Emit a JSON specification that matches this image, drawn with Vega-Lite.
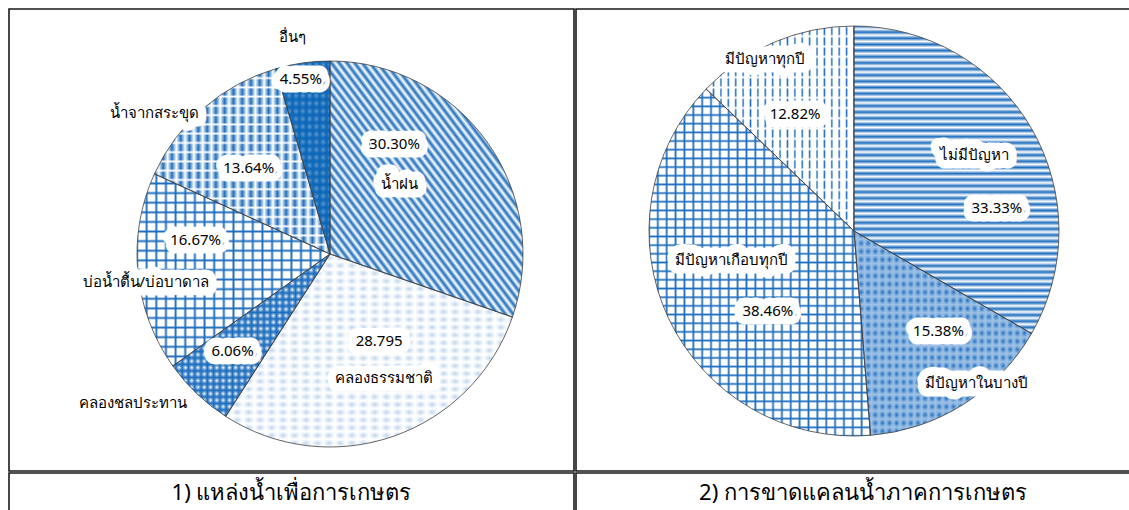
{
"$schema":"https://vega.github.io/schema/vega-lite/v6.json",
"padding":{"left":8,"top":8,"right":0,"bottom":0},
"background":"#ffffff",
"spacing":0,
"config":{"font":"Noto Sans","view":{"stroke":"#1a1a1a","strokeWidth":1.6},
"style":{"lh":{"fontSize":15,"fill":"#ffffff","stroke":"#ffffff","strokeWidth":17,"strokeJoin":"round"},"lt":{"fontSize":15,"fill":"#404040"}}},
"datasets":{
"L":[{"c":"rain","n":"น้ำฝน","p":"30.30%","v":30.30,"o":1},{"c":"nat","n":"คลองธรรมชาติ","p":"28.795","v":28.795,"o":2},{"c":"irr","n":"คลองชลประทาน","p":"6.06%","v":6.06,"o":3},{"c":"bore","n":"บ่อน้ำตื้น/บ่อบาดาล","p":"16.67%","v":16.67,"o":4},{"c":"pond","n":"น้ำจากสระขุด","p":"13.64%","v":13.64,"o":5},{"c":"oth","n":"อื่นๆ","p":"4.55%","v":4.55,"o":6}],
"R":[{"c":"none","n":"ไม่มีปัญหา","p":"33.33%","v":33.33,"o":1},{"c":"some","n":"มีปัญหาในบางปี","p":"15.38%","v":15.38,"o":2},{"c":"most","n":"มีปัญหาเกือบทุกปี","p":"38.46%","v":38.46,"o":3},{"c":"every","n":"มีปัญหาทุกปี","p":"12.82%","v":12.82,"o":4}]
},
"vconcat":[
{"hconcat":[
{"width":565,"height":462,"data":{"name":"L"},"view":{"stroke":"#1a1a1a","strokeWidth":1.6},
"encoding":{"theta":{"field":"v","type":"quantitative","stack":true},"detail":{"field":"c"},"order":{"field":"o","type":"quantitative"}},
"layer":[
{"mark":{"type":"arc","radius":193,"xOffset":38.5,"yOffset":14},"encoding":{"fill":{"condition":[{"test":"datum.c==='irr'","value":"#1e6ebe"},{"test":"datum.c==='oth'","value":"#0b66b8"}],"value":"#ffffff"}}},
{"mark":{"type":"arc","radius":193,"xOffset":38.5,"yOffset":14},"encoding":{"fill":{"condition":[
{"test":"datum.c==='rain'","value":{"gradient":"linear","x1":0,"y1":1,"x2":1,"y2":0,"stops":[{"offset":0,"color":"#1e6ebe"},{"offset":0.01,"color":"#1e6ebe00"},{"offset":0.02,"color":"#1e6ebe"},{"offset":0.03,"color":"#1e6ebe00"},{"offset":0.04,"color":"#1e6ebe"},{"offset":0.05,"color":"#1e6ebe00"},{"offset":0.06,"color":"#1e6ebe"},{"offset":0.07,"color":"#1e6ebe00"},{"offset":0.08,"color":"#1e6ebe"},{"offset":0.09,"color":"#1e6ebe00"},{"offset":0.1,"color":"#1e6ebe"},{"offset":0.11,"color":"#1e6ebe00"},{"offset":0.12,"color":"#1e6ebe"},{"offset":0.13,"color":"#1e6ebe00"},{"offset":0.14,"color":"#1e6ebe"},{"offset":0.15,"color":"#1e6ebe00"},{"offset":0.16,"color":"#1e6ebe"},{"offset":0.17,"color":"#1e6ebe00"},{"offset":0.18,"color":"#1e6ebe"},{"offset":0.19,"color":"#1e6ebe00"},{"offset":0.2,"color":"#1e6ebe"},{"offset":0.21,"color":"#1e6ebe00"},{"offset":0.22,"color":"#1e6ebe"},{"offset":0.23,"color":"#1e6ebe00"},{"offset":0.24,"color":"#1e6ebe"},{"offset":0.25,"color":"#1e6ebe00"},{"offset":0.26,"color":"#1e6ebe"},{"offset":0.27,"color":"#1e6ebe00"},{"offset":0.28,"color":"#1e6ebe"},{"offset":0.29,"color":"#1e6ebe00"},{"offset":0.3,"color":"#1e6ebe"},{"offset":0.31,"color":"#1e6ebe00"},{"offset":0.32,"color":"#1e6ebe"},{"offset":0.33,"color":"#1e6ebe00"},{"offset":0.34,"color":"#1e6ebe"},{"offset":0.35,"color":"#1e6ebe00"},{"offset":0.36,"color":"#1e6ebe"},{"offset":0.37,"color":"#1e6ebe00"},{"offset":0.38,"color":"#1e6ebe"},{"offset":0.39,"color":"#1e6ebe00"},{"offset":0.4,"color":"#1e6ebe"},{"offset":0.41,"color":"#1e6ebe00"},{"offset":0.42,"color":"#1e6ebe"},{"offset":0.43,"color":"#1e6ebe00"},{"offset":0.44,"color":"#1e6ebe"},{"offset":0.45,"color":"#1e6ebe00"},{"offset":0.46,"color":"#1e6ebe"},{"offset":0.47,"color":"#1e6ebe00"},{"offset":0.48,"color":"#1e6ebe"},{"offset":0.49,"color":"#1e6ebe00"},{"offset":0.5,"color":"#1e6ebe"},{"offset":0.51,"color":"#1e6ebe00"},{"offset":0.52,"color":"#1e6ebe"},{"offset":0.53,"color":"#1e6ebe00"},{"offset":0.54,"color":"#1e6ebe"},{"offset":0.55,"color":"#1e6ebe00"},{"offset":0.56,"color":"#1e6ebe"},{"offset":0.57,"color":"#1e6ebe00"},{"offset":0.58,"color":"#1e6ebe"},{"offset":0.59,"color":"#1e6ebe00"},{"offset":0.6,"color":"#1e6ebe"},{"offset":0.61,"color":"#1e6ebe00"},{"offset":0.62,"color":"#1e6ebe"},{"offset":0.63,"color":"#1e6ebe00"},{"offset":0.64,"color":"#1e6ebe"},{"offset":0.65,"color":"#1e6ebe00"},{"offset":0.66,"color":"#1e6ebe"},{"offset":0.67,"color":"#1e6ebe00"},{"offset":0.68,"color":"#1e6ebe"},{"offset":0.69,"color":"#1e6ebe00"},{"offset":0.7,"color":"#1e6ebe"},{"offset":0.71,"color":"#1e6ebe00"},{"offset":0.72,"color":"#1e6ebe"},{"offset":0.73,"color":"#1e6ebe00"},{"offset":0.74,"color":"#1e6ebe"},{"offset":0.75,"color":"#1e6ebe00"},{"offset":0.76,"color":"#1e6ebe"},{"offset":0.77,"color":"#1e6ebe00"},{"offset":0.78,"color":"#1e6ebe"},{"offset":0.79,"color":"#1e6ebe00"},{"offset":0.8,"color":"#1e6ebe"},{"offset":0.81,"color":"#1e6ebe00"},{"offset":0.82,"color":"#1e6ebe"},{"offset":0.83,"color":"#1e6ebe00"},{"offset":0.84,"color":"#1e6ebe"},{"offset":0.85,"color":"#1e6ebe00"},{"offset":0.86,"color":"#1e6ebe"},{"offset":0.87,"color":"#1e6ebe00"},{"offset":0.88,"color":"#1e6ebe"},{"offset":0.89,"color":"#1e6ebe00"},{"offset":0.9,"color":"#1e6ebe"},{"offset":0.91,"color":"#1e6ebe00"},{"offset":0.92,"color":"#1e6ebe"},{"offset":0.93,"color":"#1e6ebe00"},{"offset":0.94,"color":"#1e6ebe"},{"offset":0.95,"color":"#1e6ebe00"},{"offset":0.96,"color":"#1e6ebe"},{"offset":0.97,"color":"#1e6ebe00"},{"offset":0.98,"color":"#1e6ebe"},{"offset":0.99,"color":"#1e6ebe00"},{"offset":1,"color":"#1e6ebe"}]}},
{"test":"datum.c==='nat'","value":{"gradient":"linear","x1":0,"y1":0,"x2":1,"y2":0,"stops":[{"offset":0,"color":"#1e6ebe4d"},{"offset":0.02,"color":"#1e6ebe00"},{"offset":0.04,"color":"#1e6ebe4d"},{"offset":0.06,"color":"#1e6ebe00"},{"offset":0.08,"color":"#1e6ebe4d"},{"offset":0.1,"color":"#1e6ebe00"},{"offset":0.12,"color":"#1e6ebe4d"},{"offset":0.14,"color":"#1e6ebe00"},{"offset":0.16,"color":"#1e6ebe4d"},{"offset":0.18,"color":"#1e6ebe00"},{"offset":0.2,"color":"#1e6ebe4d"},{"offset":0.22,"color":"#1e6ebe00"},{"offset":0.24,"color":"#1e6ebe4d"},{"offset":0.26,"color":"#1e6ebe00"},{"offset":0.28,"color":"#1e6ebe4d"},{"offset":0.3,"color":"#1e6ebe00"},{"offset":0.32,"color":"#1e6ebe4d"},{"offset":0.34,"color":"#1e6ebe00"},{"offset":0.36,"color":"#1e6ebe4d"},{"offset":0.38,"color":"#1e6ebe00"},{"offset":0.4,"color":"#1e6ebe4d"},{"offset":0.42,"color":"#1e6ebe00"},{"offset":0.44,"color":"#1e6ebe4d"},{"offset":0.46,"color":"#1e6ebe00"},{"offset":0.48,"color":"#1e6ebe4d"},{"offset":0.5,"color":"#1e6ebe00"},{"offset":0.52,"color":"#1e6ebe4d"},{"offset":0.54,"color":"#1e6ebe00"},{"offset":0.56,"color":"#1e6ebe4d"},{"offset":0.58,"color":"#1e6ebe00"},{"offset":0.6,"color":"#1e6ebe4d"},{"offset":0.62,"color":"#1e6ebe00"},{"offset":0.64,"color":"#1e6ebe4d"},{"offset":0.66,"color":"#1e6ebe00"},{"offset":0.68,"color":"#1e6ebe4d"},{"offset":0.7,"color":"#1e6ebe00"},{"offset":0.72,"color":"#1e6ebe4d"},{"offset":0.74,"color":"#1e6ebe00"},{"offset":0.76,"color":"#1e6ebe4d"},{"offset":0.78,"color":"#1e6ebe00"},{"offset":0.8,"color":"#1e6ebe4d"},{"offset":0.82,"color":"#1e6ebe00"},{"offset":0.84,"color":"#1e6ebe4d"},{"offset":0.86,"color":"#1e6ebe00"},{"offset":0.88,"color":"#1e6ebe4d"},{"offset":0.9,"color":"#1e6ebe00"},{"offset":0.92,"color":"#1e6ebe4d"},{"offset":0.94,"color":"#1e6ebe00"},{"offset":0.96,"color":"#1e6ebe4d"},{"offset":0.98,"color":"#1e6ebe00"},{"offset":1,"color":"#1e6ebe4d"}]}},
{"test":"datum.c==='irr'","value":{"gradient":"linear","x1":0,"y1":0,"x2":1,"y2":0,"stops":[{"offset":0,"color":"#ffffff"},{"offset":0.02,"color":"#ffffff00"},{"offset":0.04,"color":"#ffffff"},{"offset":0.06,"color":"#ffffff00"},{"offset":0.08,"color":"#ffffff"},{"offset":0.1,"color":"#ffffff00"},{"offset":0.12,"color":"#ffffff"},{"offset":0.14,"color":"#ffffff00"},{"offset":0.16,"color":"#ffffff"},{"offset":0.18,"color":"#ffffff00"},{"offset":0.2,"color":"#ffffff"},{"offset":0.22,"color":"#ffffff00"},{"offset":0.24,"color":"#ffffff"},{"offset":0.26,"color":"#ffffff00"},{"offset":0.28,"color":"#ffffff"},{"offset":0.3,"color":"#ffffff00"},{"offset":0.32,"color":"#ffffff"},{"offset":0.34,"color":"#ffffff00"},{"offset":0.36,"color":"#ffffff"},{"offset":0.38,"color":"#ffffff00"},{"offset":0.4,"color":"#ffffff"},{"offset":0.42,"color":"#ffffff00"},{"offset":0.44,"color":"#ffffff"},{"offset":0.46,"color":"#ffffff00"},{"offset":0.48,"color":"#ffffff"},{"offset":0.5,"color":"#ffffff00"},{"offset":0.52,"color":"#ffffff"},{"offset":0.54,"color":"#ffffff00"},{"offset":0.56,"color":"#ffffff"},{"offset":0.58,"color":"#ffffff00"},{"offset":0.6,"color":"#ffffff"},{"offset":0.62,"color":"#ffffff00"},{"offset":0.64,"color":"#ffffff"},{"offset":0.66,"color":"#ffffff00"},{"offset":0.68,"color":"#ffffff"},{"offset":0.7,"color":"#ffffff00"},{"offset":0.72,"color":"#ffffff"},{"offset":0.74,"color":"#ffffff00"},{"offset":0.76,"color":"#ffffff"},{"offset":0.78,"color":"#ffffff00"},{"offset":0.8,"color":"#ffffff"},{"offset":0.82,"color":"#ffffff00"},{"offset":0.84,"color":"#ffffff"},{"offset":0.86,"color":"#ffffff00"},{"offset":0.88,"color":"#ffffff"},{"offset":0.9,"color":"#ffffff00"},{"offset":0.92,"color":"#ffffff"},{"offset":0.94,"color":"#ffffff00"},{"offset":0.96,"color":"#ffffff"},{"offset":0.98,"color":"#ffffff00"},{"offset":1,"color":"#ffffff"}]}},
{"test":"datum.c==='bore'","value":{"gradient":"linear","x1":0,"y1":0,"x2":0,"y2":1,"stops":[{"offset":0,"color":"#1e6ebe"},{"offset":0.01,"color":"#1e6ebe00"},{"offset":0.04,"color":"#1e6ebe00"},{"offset":0.05,"color":"#1e6ebe"},{"offset":0.06,"color":"#1e6ebe00"},{"offset":0.09,"color":"#1e6ebe00"},{"offset":0.1,"color":"#1e6ebe"},{"offset":0.11,"color":"#1e6ebe00"},{"offset":0.14,"color":"#1e6ebe00"},{"offset":0.15,"color":"#1e6ebe"},{"offset":0.16,"color":"#1e6ebe00"},{"offset":0.19,"color":"#1e6ebe00"},{"offset":0.2,"color":"#1e6ebe"},{"offset":0.21,"color":"#1e6ebe00"},{"offset":0.24,"color":"#1e6ebe00"},{"offset":0.25,"color":"#1e6ebe"},{"offset":0.26,"color":"#1e6ebe00"},{"offset":0.29,"color":"#1e6ebe00"},{"offset":0.3,"color":"#1e6ebe"},{"offset":0.31,"color":"#1e6ebe00"},{"offset":0.34,"color":"#1e6ebe00"},{"offset":0.35,"color":"#1e6ebe"},{"offset":0.36,"color":"#1e6ebe00"},{"offset":0.39,"color":"#1e6ebe00"},{"offset":0.4,"color":"#1e6ebe"},{"offset":0.41,"color":"#1e6ebe00"},{"offset":0.44,"color":"#1e6ebe00"},{"offset":0.45,"color":"#1e6ebe"},{"offset":0.46,"color":"#1e6ebe00"},{"offset":0.49,"color":"#1e6ebe00"},{"offset":0.5,"color":"#1e6ebe"},{"offset":0.51,"color":"#1e6ebe00"},{"offset":0.54,"color":"#1e6ebe00"},{"offset":0.55,"color":"#1e6ebe"},{"offset":0.56,"color":"#1e6ebe00"},{"offset":0.59,"color":"#1e6ebe00"},{"offset":0.6,"color":"#1e6ebe"},{"offset":0.61,"color":"#1e6ebe00"},{"offset":0.64,"color":"#1e6ebe00"},{"offset":0.65,"color":"#1e6ebe"},{"offset":0.66,"color":"#1e6ebe00"},{"offset":0.69,"color":"#1e6ebe00"},{"offset":0.7,"color":"#1e6ebe"},{"offset":0.71,"color":"#1e6ebe00"},{"offset":0.74,"color":"#1e6ebe00"},{"offset":0.75,"color":"#1e6ebe"},{"offset":0.76,"color":"#1e6ebe00"},{"offset":0.79,"color":"#1e6ebe00"},{"offset":0.8,"color":"#1e6ebe"},{"offset":0.81,"color":"#1e6ebe00"},{"offset":0.84,"color":"#1e6ebe00"},{"offset":0.85,"color":"#1e6ebe"},{"offset":0.86,"color":"#1e6ebe00"},{"offset":0.89,"color":"#1e6ebe00"},{"offset":0.9,"color":"#1e6ebe"},{"offset":0.91,"color":"#1e6ebe00"},{"offset":0.94,"color":"#1e6ebe00"},{"offset":0.95,"color":"#1e6ebe"},{"offset":0.96,"color":"#1e6ebe00"},{"offset":0.99,"color":"#1e6ebe00"},{"offset":1,"color":"#1e6ebe"}]}},
{"test":"datum.c==='pond'","value":{"gradient":"linear","x1":0,"y1":0,"x2":1,"y2":0,"stops":[{"offset":0,"color":"#1e6ebe"},{"offset":0.025,"color":"#1e6ebe00"},{"offset":0.05,"color":"#1e6ebe"},{"offset":0.075,"color":"#1e6ebe00"},{"offset":0.1,"color":"#1e6ebe"},{"offset":0.125,"color":"#1e6ebe00"},{"offset":0.15,"color":"#1e6ebe"},{"offset":0.175,"color":"#1e6ebe00"},{"offset":0.2,"color":"#1e6ebe"},{"offset":0.225,"color":"#1e6ebe00"},{"offset":0.25,"color":"#1e6ebe"},{"offset":0.275,"color":"#1e6ebe00"},{"offset":0.3,"color":"#1e6ebe"},{"offset":0.325,"color":"#1e6ebe00"},{"offset":0.35,"color":"#1e6ebe"},{"offset":0.375,"color":"#1e6ebe00"},{"offset":0.4,"color":"#1e6ebe"},{"offset":0.425,"color":"#1e6ebe00"},{"offset":0.45,"color":"#1e6ebe"},{"offset":0.475,"color":"#1e6ebe00"},{"offset":0.5,"color":"#1e6ebe"},{"offset":0.525,"color":"#1e6ebe00"},{"offset":0.55,"color":"#1e6ebe"},{"offset":0.575,"color":"#1e6ebe00"},{"offset":0.6,"color":"#1e6ebe"},{"offset":0.625,"color":"#1e6ebe00"},{"offset":0.65,"color":"#1e6ebe"},{"offset":0.675,"color":"#1e6ebe00"},{"offset":0.7,"color":"#1e6ebe"},{"offset":0.725,"color":"#1e6ebe00"},{"offset":0.75,"color":"#1e6ebe"},{"offset":0.775,"color":"#1e6ebe00"},{"offset":0.8,"color":"#1e6ebe"},{"offset":0.825,"color":"#1e6ebe00"},{"offset":0.85,"color":"#1e6ebe"},{"offset":0.875,"color":"#1e6ebe00"},{"offset":0.9,"color":"#1e6ebe"},{"offset":0.925,"color":"#1e6ebe00"},{"offset":0.95,"color":"#1e6ebe"},{"offset":0.975,"color":"#1e6ebe00"},{"offset":1,"color":"#1e6ebe"}]}},
{"test":"datum.c==='oth'","value":{"gradient":"linear","x1":0,"y1":0,"x2":1,"y2":0,"stops":[{"offset":0,"color":"#ffffff59"},{"offset":0.0625,"color":"#ffffff00"},{"offset":0.125,"color":"#ffffff59"},{"offset":0.1875,"color":"#ffffff00"},{"offset":0.25,"color":"#ffffff59"},{"offset":0.3125,"color":"#ffffff00"},{"offset":0.375,"color":"#ffffff59"},{"offset":0.4375,"color":"#ffffff00"},{"offset":0.5,"color":"#ffffff59"},{"offset":0.5625,"color":"#ffffff00"},{"offset":0.625,"color":"#ffffff59"},{"offset":0.6875,"color":"#ffffff00"},{"offset":0.75,"color":"#ffffff59"},{"offset":0.8125,"color":"#ffffff00"},{"offset":0.875,"color":"#ffffff59"},{"offset":0.9375,"color":"#ffffff00"},{"offset":1,"color":"#ffffff59"}]}}
],"value":null}}},
{"mark":{"type":"arc","radius":193,"xOffset":38.5,"yOffset":14},"encoding":{"fill":{"condition":[
{"test":"datum.c==='nat'","value":{"gradient":"linear","x1":0,"y1":0,"x2":0,"y2":1,"stops":[{"offset":0,"color":"#ffffff"},{"offset":0.02,"color":"#ffffff00"},{"offset":0.04,"color":"#ffffff"},{"offset":0.06,"color":"#ffffff00"},{"offset":0.08,"color":"#ffffff"},{"offset":0.1,"color":"#ffffff00"},{"offset":0.12,"color":"#ffffff"},{"offset":0.14,"color":"#ffffff00"},{"offset":0.16,"color":"#ffffff"},{"offset":0.18,"color":"#ffffff00"},{"offset":0.2,"color":"#ffffff"},{"offset":0.22,"color":"#ffffff00"},{"offset":0.24,"color":"#ffffff"},{"offset":0.26,"color":"#ffffff00"},{"offset":0.28,"color":"#ffffff"},{"offset":0.3,"color":"#ffffff00"},{"offset":0.32,"color":"#ffffff"},{"offset":0.34,"color":"#ffffff00"},{"offset":0.36,"color":"#ffffff"},{"offset":0.38,"color":"#ffffff00"},{"offset":0.4,"color":"#ffffff"},{"offset":0.42,"color":"#ffffff00"},{"offset":0.44,"color":"#ffffff"},{"offset":0.46,"color":"#ffffff00"},{"offset":0.48,"color":"#ffffff"},{"offset":0.5,"color":"#ffffff00"},{"offset":0.52,"color":"#ffffff"},{"offset":0.54,"color":"#ffffff00"},{"offset":0.56,"color":"#ffffff"},{"offset":0.58,"color":"#ffffff00"},{"offset":0.6,"color":"#ffffff"},{"offset":0.62,"color":"#ffffff00"},{"offset":0.64,"color":"#ffffff"},{"offset":0.66,"color":"#ffffff00"},{"offset":0.68,"color":"#ffffff"},{"offset":0.7,"color":"#ffffff00"},{"offset":0.72,"color":"#ffffff"},{"offset":0.74,"color":"#ffffff00"},{"offset":0.76,"color":"#ffffff"},{"offset":0.78,"color":"#ffffff00"},{"offset":0.8,"color":"#ffffff"},{"offset":0.82,"color":"#ffffff00"},{"offset":0.84,"color":"#ffffff"},{"offset":0.86,"color":"#ffffff00"},{"offset":0.88,"color":"#ffffff"},{"offset":0.9,"color":"#ffffff00"},{"offset":0.92,"color":"#ffffff"},{"offset":0.94,"color":"#ffffff00"},{"offset":0.96,"color":"#ffffff"},{"offset":0.98,"color":"#ffffff00"},{"offset":1,"color":"#ffffff"}]}},
{"test":"datum.c==='irr'","value":{"gradient":"linear","x1":0,"y1":0,"x2":0,"y2":1,"stops":[{"offset":0,"color":"#1e6ebe"},{"offset":0.02,"color":"#1e6ebe00"},{"offset":0.04,"color":"#1e6ebe"},{"offset":0.06,"color":"#1e6ebe00"},{"offset":0.08,"color":"#1e6ebe"},{"offset":0.1,"color":"#1e6ebe00"},{"offset":0.12,"color":"#1e6ebe"},{"offset":0.14,"color":"#1e6ebe00"},{"offset":0.16,"color":"#1e6ebe"},{"offset":0.18,"color":"#1e6ebe00"},{"offset":0.2,"color":"#1e6ebe"},{"offset":0.22,"color":"#1e6ebe00"},{"offset":0.24,"color":"#1e6ebe"},{"offset":0.26,"color":"#1e6ebe00"},{"offset":0.28,"color":"#1e6ebe"},{"offset":0.3,"color":"#1e6ebe00"},{"offset":0.32,"color":"#1e6ebe"},{"offset":0.34,"color":"#1e6ebe00"},{"offset":0.36,"color":"#1e6ebe"},{"offset":0.38,"color":"#1e6ebe00"},{"offset":0.4,"color":"#1e6ebe"},{"offset":0.42,"color":"#1e6ebe00"},{"offset":0.44,"color":"#1e6ebe"},{"offset":0.46,"color":"#1e6ebe00"},{"offset":0.48,"color":"#1e6ebe"},{"offset":0.5,"color":"#1e6ebe00"},{"offset":0.52,"color":"#1e6ebe"},{"offset":0.54,"color":"#1e6ebe00"},{"offset":0.56,"color":"#1e6ebe"},{"offset":0.58,"color":"#1e6ebe00"},{"offset":0.6,"color":"#1e6ebe"},{"offset":0.62,"color":"#1e6ebe00"},{"offset":0.64,"color":"#1e6ebe"},{"offset":0.66,"color":"#1e6ebe00"},{"offset":0.68,"color":"#1e6ebe"},{"offset":0.7,"color":"#1e6ebe00"},{"offset":0.72,"color":"#1e6ebe"},{"offset":0.74,"color":"#1e6ebe00"},{"offset":0.76,"color":"#1e6ebe"},{"offset":0.78,"color":"#1e6ebe00"},{"offset":0.8,"color":"#1e6ebe"},{"offset":0.82,"color":"#1e6ebe00"},{"offset":0.84,"color":"#1e6ebe"},{"offset":0.86,"color":"#1e6ebe00"},{"offset":0.88,"color":"#1e6ebe"},{"offset":0.9,"color":"#1e6ebe00"},{"offset":0.92,"color":"#1e6ebe"},{"offset":0.94,"color":"#1e6ebe00"},{"offset":0.96,"color":"#1e6ebe"},{"offset":0.98,"color":"#1e6ebe00"},{"offset":1,"color":"#1e6ebe"}]}},
{"test":"datum.c==='bore'","value":{"gradient":"linear","x1":0,"y1":0,"x2":1,"y2":0,"stops":[{"offset":0,"color":"#1e6ebe"},{"offset":0.01,"color":"#1e6ebe00"},{"offset":0.04,"color":"#1e6ebe00"},{"offset":0.05,"color":"#1e6ebe"},{"offset":0.06,"color":"#1e6ebe00"},{"offset":0.09,"color":"#1e6ebe00"},{"offset":0.1,"color":"#1e6ebe"},{"offset":0.11,"color":"#1e6ebe00"},{"offset":0.14,"color":"#1e6ebe00"},{"offset":0.15,"color":"#1e6ebe"},{"offset":0.16,"color":"#1e6ebe00"},{"offset":0.19,"color":"#1e6ebe00"},{"offset":0.2,"color":"#1e6ebe"},{"offset":0.21,"color":"#1e6ebe00"},{"offset":0.24,"color":"#1e6ebe00"},{"offset":0.25,"color":"#1e6ebe"},{"offset":0.26,"color":"#1e6ebe00"},{"offset":0.29,"color":"#1e6ebe00"},{"offset":0.3,"color":"#1e6ebe"},{"offset":0.31,"color":"#1e6ebe00"},{"offset":0.34,"color":"#1e6ebe00"},{"offset":0.35,"color":"#1e6ebe"},{"offset":0.36,"color":"#1e6ebe00"},{"offset":0.39,"color":"#1e6ebe00"},{"offset":0.4,"color":"#1e6ebe"},{"offset":0.41,"color":"#1e6ebe00"},{"offset":0.44,"color":"#1e6ebe00"},{"offset":0.45,"color":"#1e6ebe"},{"offset":0.46,"color":"#1e6ebe00"},{"offset":0.49,"color":"#1e6ebe00"},{"offset":0.5,"color":"#1e6ebe"},{"offset":0.51,"color":"#1e6ebe00"},{"offset":0.54,"color":"#1e6ebe00"},{"offset":0.55,"color":"#1e6ebe"},{"offset":0.56,"color":"#1e6ebe00"},{"offset":0.59,"color":"#1e6ebe00"},{"offset":0.6,"color":"#1e6ebe"},{"offset":0.61,"color":"#1e6ebe00"},{"offset":0.64,"color":"#1e6ebe00"},{"offset":0.65,"color":"#1e6ebe"},{"offset":0.66,"color":"#1e6ebe00"},{"offset":0.69,"color":"#1e6ebe00"},{"offset":0.7,"color":"#1e6ebe"},{"offset":0.71,"color":"#1e6ebe00"},{"offset":0.74,"color":"#1e6ebe00"},{"offset":0.75,"color":"#1e6ebe"},{"offset":0.76,"color":"#1e6ebe00"},{"offset":0.79,"color":"#1e6ebe00"},{"offset":0.8,"color":"#1e6ebe"},{"offset":0.81,"color":"#1e6ebe00"},{"offset":0.84,"color":"#1e6ebe00"},{"offset":0.85,"color":"#1e6ebe"},{"offset":0.86,"color":"#1e6ebe00"},{"offset":0.89,"color":"#1e6ebe00"},{"offset":0.9,"color":"#1e6ebe"},{"offset":0.91,"color":"#1e6ebe00"},{"offset":0.94,"color":"#1e6ebe00"},{"offset":0.95,"color":"#1e6ebe"},{"offset":0.96,"color":"#1e6ebe00"},{"offset":0.99,"color":"#1e6ebe00"},{"offset":1,"color":"#1e6ebe"}]}},
{"test":"datum.c==='pond'","value":{"gradient":"linear","x1":0,"y1":0,"x2":0,"y2":1,"stops":[{"offset":0,"color":"#ffffff"},{"offset":0.01,"color":"#ffffff00"},{"offset":0.04,"color":"#ffffff00"},{"offset":0.05,"color":"#ffffff"},{"offset":0.06,"color":"#ffffff00"},{"offset":0.09,"color":"#ffffff00"},{"offset":0.1,"color":"#ffffff"},{"offset":0.11,"color":"#ffffff00"},{"offset":0.14,"color":"#ffffff00"},{"offset":0.15,"color":"#ffffff"},{"offset":0.16,"color":"#ffffff00"},{"offset":0.19,"color":"#ffffff00"},{"offset":0.2,"color":"#ffffff"},{"offset":0.21,"color":"#ffffff00"},{"offset":0.24,"color":"#ffffff00"},{"offset":0.25,"color":"#ffffff"},{"offset":0.26,"color":"#ffffff00"},{"offset":0.29,"color":"#ffffff00"},{"offset":0.3,"color":"#ffffff"},{"offset":0.31,"color":"#ffffff00"},{"offset":0.34,"color":"#ffffff00"},{"offset":0.35,"color":"#ffffff"},{"offset":0.36,"color":"#ffffff00"},{"offset":0.39,"color":"#ffffff00"},{"offset":0.4,"color":"#ffffff"},{"offset":0.41,"color":"#ffffff00"},{"offset":0.44,"color":"#ffffff00"},{"offset":0.45,"color":"#ffffff"},{"offset":0.46,"color":"#ffffff00"},{"offset":0.49,"color":"#ffffff00"},{"offset":0.5,"color":"#ffffff"},{"offset":0.51,"color":"#ffffff00"},{"offset":0.54,"color":"#ffffff00"},{"offset":0.55,"color":"#ffffff"},{"offset":0.56,"color":"#ffffff00"},{"offset":0.59,"color":"#ffffff00"},{"offset":0.6,"color":"#ffffff"},{"offset":0.61,"color":"#ffffff00"},{"offset":0.64,"color":"#ffffff00"},{"offset":0.65,"color":"#ffffff"},{"offset":0.66,"color":"#ffffff00"},{"offset":0.69,"color":"#ffffff00"},{"offset":0.7,"color":"#ffffff"},{"offset":0.71,"color":"#ffffff00"},{"offset":0.74,"color":"#ffffff00"},{"offset":0.75,"color":"#ffffff"},{"offset":0.76,"color":"#ffffff00"},{"offset":0.79,"color":"#ffffff00"},{"offset":0.8,"color":"#ffffff"},{"offset":0.81,"color":"#ffffff00"},{"offset":0.84,"color":"#ffffff00"},{"offset":0.85,"color":"#ffffff"},{"offset":0.86,"color":"#ffffff00"},{"offset":0.89,"color":"#ffffff00"},{"offset":0.9,"color":"#ffffff"},{"offset":0.91,"color":"#ffffff00"},{"offset":0.94,"color":"#ffffff00"},{"offset":0.95,"color":"#ffffff"},{"offset":0.96,"color":"#ffffff00"},{"offset":0.99,"color":"#ffffff00"},{"offset":1,"color":"#ffffff"}]}},
{"test":"datum.c==='oth'","value":{"gradient":"linear","x1":0,"y1":0,"x2":0,"y2":1,"stops":[{"offset":0,"color":"#0b66b8"},{"offset":0.02,"color":"#0b66b800"},{"offset":0.04,"color":"#0b66b8"},{"offset":0.06,"color":"#0b66b800"},{"offset":0.08,"color":"#0b66b8"},{"offset":0.1,"color":"#0b66b800"},{"offset":0.12,"color":"#0b66b8"},{"offset":0.14,"color":"#0b66b800"},{"offset":0.16,"color":"#0b66b8"},{"offset":0.18,"color":"#0b66b800"},{"offset":0.2,"color":"#0b66b8"},{"offset":0.22,"color":"#0b66b800"},{"offset":0.24,"color":"#0b66b8"},{"offset":0.26,"color":"#0b66b800"},{"offset":0.28,"color":"#0b66b8"},{"offset":0.3,"color":"#0b66b800"},{"offset":0.32,"color":"#0b66b8"},{"offset":0.34,"color":"#0b66b800"},{"offset":0.36,"color":"#0b66b8"},{"offset":0.38,"color":"#0b66b800"},{"offset":0.4,"color":"#0b66b8"},{"offset":0.42,"color":"#0b66b800"},{"offset":0.44,"color":"#0b66b8"},{"offset":0.46,"color":"#0b66b800"},{"offset":0.48,"color":"#0b66b8"},{"offset":0.5,"color":"#0b66b800"},{"offset":0.52,"color":"#0b66b8"},{"offset":0.54,"color":"#0b66b800"},{"offset":0.56,"color":"#0b66b8"},{"offset":0.58,"color":"#0b66b800"},{"offset":0.6,"color":"#0b66b8"},{"offset":0.62,"color":"#0b66b800"},{"offset":0.64,"color":"#0b66b8"},{"offset":0.66,"color":"#0b66b800"},{"offset":0.68,"color":"#0b66b8"},{"offset":0.7,"color":"#0b66b800"},{"offset":0.72,"color":"#0b66b8"},{"offset":0.74,"color":"#0b66b800"},{"offset":0.76,"color":"#0b66b8"},{"offset":0.78,"color":"#0b66b800"},{"offset":0.8,"color":"#0b66b8"},{"offset":0.82,"color":"#0b66b800"},{"offset":0.84,"color":"#0b66b8"},{"offset":0.86,"color":"#0b66b800"},{"offset":0.88,"color":"#0b66b8"},{"offset":0.9,"color":"#0b66b800"},{"offset":0.92,"color":"#0b66b8"},{"offset":0.94,"color":"#0b66b800"},{"offset":0.96,"color":"#0b66b8"},{"offset":0.98,"color":"#0b66b800"},{"offset":1,"color":"#0b66b8"}]}}
],"value":null}}},
{"mark":{"type":"arc","radius":193,"xOffset":38.5,"yOffset":14,"filled":false,"stroke":"#404040","strokeWidth":0.8}},
{"mark":{"type":"text","style":"lh","radius":116,"xOffset":38.5,"yOffset":14,"dx":-30,"dy":-43},"encoding":{"text":{"condition":{"test":"datum.c==='rain'","field":"p"},"value":""}}},
{"mark":{"type":"text","style":"lh","radius":97,"xOffset":38.5,"yOffset":14,"dx":-10,"dy":-14},"encoding":{"text":{"condition":{"test":"datum.c==='rain'","field":"n"},"value":""}}},
{"mark":{"type":"text","style":"lh","radius":98,"xOffset":38.5,"yOffset":14,"dx":17,"dy":-6},"encoding":{"text":{"condition":{"test":"datum.c==='nat'","field":"p"},"value":""}}},
{"mark":{"type":"text","style":"lh","radius":135,"xOffset":38.5,"yOffset":14,"dx":10,"dy":-4},"encoding":{"text":{"condition":{"test":"datum.c==='nat'","field":"n"},"value":""}}},
{"mark":{"type":"text","style":"lh","radius":137,"xOffset":38.5,"yOffset":14,"dx":-3,"dy":-2},"encoding":{"text":{"condition":{"test":"datum.c==='irr'","field":"p"},"value":""}}},
{"mark":{"type":"text","style":"lh","radius":150,"xOffset":38.5,"yOffset":14,"dx":-94,"dy":40},"encoding":{"text":{"condition":{"test":"datum.c==='irr'","field":"n"},"value":""}}},
{"mark":{"type":"text","style":"lh","radius":132,"xOffset":38.5,"yOffset":14,"dx":-3,"dy":-27},"encoding":{"text":{"condition":{"test":"datum.c==='bore'","field":"p"},"value":""}}},
{"mark":{"type":"text","style":"lh","radius":186,"xOffset":38.5,"yOffset":14,"dx":1,"dy":10},"encoding":{"text":{"condition":{"test":"datum.c==='bore'","field":"n"},"value":""}}},
{"mark":{"type":"text","style":"lh","radius":118,"xOffset":38.5,"yOffset":14,"dx":-4,"dy":3},"encoding":{"text":{"condition":{"test":"datum.c==='pond'","field":"p"},"value":""}}},
{"mark":{"type":"text","style":"lh","radius":120,"xOffset":38.5,"yOffset":14,"dx":-97,"dy":-50},"encoding":{"text":{"condition":{"test":"datum.c==='pond'","field":"n"},"value":""}}},
{"mark":{"type":"text","style":"lh","radius":177,"xOffset":38.5,"yOffset":14,"dx":-4,"dy":0},"encoding":{"text":{"condition":{"test":"datum.c==='oth'","field":"p"},"value":""}}},
{"mark":{"type":"text","style":"lh","radius":150,"xOffset":38.5,"yOffset":14,"dx":-16,"dy":-69},"encoding":{"text":{"condition":{"test":"datum.c==='oth'","field":"n"},"value":""}}},
{"mark":{"type":"text","style":"lt","radius":116,"xOffset":38.5,"yOffset":14,"dx":-30,"dy":-43},"encoding":{"text":{"condition":{"test":"datum.c==='rain'","field":"p"},"value":""}}},
{"mark":{"type":"text","style":"lt","radius":97,"xOffset":38.5,"yOffset":14,"dx":-10,"dy":-14},"encoding":{"text":{"condition":{"test":"datum.c==='rain'","field":"n"},"value":""}}},
{"mark":{"type":"text","style":"lt","radius":98,"xOffset":38.5,"yOffset":14,"dx":17,"dy":-6},"encoding":{"text":{"condition":{"test":"datum.c==='nat'","field":"p"},"value":""}}},
{"mark":{"type":"text","style":"lt","radius":135,"xOffset":38.5,"yOffset":14,"dx":10,"dy":-4},"encoding":{"text":{"condition":{"test":"datum.c==='nat'","field":"n"},"value":""}}},
{"mark":{"type":"text","style":"lt","radius":137,"xOffset":38.5,"yOffset":14,"dx":-3,"dy":-2},"encoding":{"text":{"condition":{"test":"datum.c==='irr'","field":"p"},"value":""}}},
{"mark":{"type":"text","style":"lt","radius":150,"xOffset":38.5,"yOffset":14,"dx":-94,"dy":40},"encoding":{"text":{"condition":{"test":"datum.c==='irr'","field":"n"},"value":""}}},
{"mark":{"type":"text","style":"lt","radius":132,"xOffset":38.5,"yOffset":14,"dx":-3,"dy":-27},"encoding":{"text":{"condition":{"test":"datum.c==='bore'","field":"p"},"value":""}}},
{"mark":{"type":"text","style":"lt","radius":186,"xOffset":38.5,"yOffset":14,"dx":1,"dy":10},"encoding":{"text":{"condition":{"test":"datum.c==='bore'","field":"n"},"value":""}}},
{"mark":{"type":"text","style":"lt","radius":118,"xOffset":38.5,"yOffset":14,"dx":-4,"dy":3},"encoding":{"text":{"condition":{"test":"datum.c==='pond'","field":"p"},"value":""}}},
{"mark":{"type":"text","style":"lt","radius":120,"xOffset":38.5,"yOffset":14,"dx":-97,"dy":-50},"encoding":{"text":{"condition":{"test":"datum.c==='pond'","field":"n"},"value":""}}},
{"mark":{"type":"text","style":"lt","radius":177,"xOffset":38.5,"yOffset":14,"dx":-4,"dy":0},"encoding":{"text":{"condition":{"test":"datum.c==='oth'","field":"p"},"value":""}}},
{"mark":{"type":"text","style":"lt","radius":150,"xOffset":38.5,"yOffset":14,"dx":-16,"dy":-69},"encoding":{"text":{"condition":{"test":"datum.c==='oth'","field":"n"},"value":""}}}
]},
{"width":556,"height":462,"data":{"name":"R"},"view":{"stroke":"#1a1a1a","strokeWidth":1.6},
"encoding":{"theta":{"field":"v","type":"quantitative","stack":true},"detail":{"field":"c"},"order":{"field":"o","type":"quantitative"}},
"layer":[
{"mark":{"type":"arc","radius":205,"yOffset":-9},"encoding":{"fill":{"condition":[{"test":"datum.c==='some'","value":"#9ec1e6"}],"value":"#ffffff"}}},
{"mark":{"type":"arc","radius":205,"yOffset":-9},"encoding":{"fill":{"condition":[
{"test":"datum.c==='none'","value":{"gradient":"linear","x1":0,"y1":0,"x2":0,"y2":1,"stops":[{"offset":0,"color":"#1e6ebe"},{"offset":0.01,"color":"#1e6ebe00"},{"offset":0.02,"color":"#1e6ebe"},{"offset":0.03,"color":"#1e6ebe00"},{"offset":0.04,"color":"#1e6ebe"},{"offset":0.05,"color":"#1e6ebe00"},{"offset":0.06,"color":"#1e6ebe"},{"offset":0.07,"color":"#1e6ebe00"},{"offset":0.08,"color":"#1e6ebe"},{"offset":0.09,"color":"#1e6ebe00"},{"offset":0.1,"color":"#1e6ebe"},{"offset":0.11,"color":"#1e6ebe00"},{"offset":0.12,"color":"#1e6ebe"},{"offset":0.13,"color":"#1e6ebe00"},{"offset":0.14,"color":"#1e6ebe"},{"offset":0.15,"color":"#1e6ebe00"},{"offset":0.16,"color":"#1e6ebe"},{"offset":0.17,"color":"#1e6ebe00"},{"offset":0.18,"color":"#1e6ebe"},{"offset":0.19,"color":"#1e6ebe00"},{"offset":0.2,"color":"#1e6ebe"},{"offset":0.21,"color":"#1e6ebe00"},{"offset":0.22,"color":"#1e6ebe"},{"offset":0.23,"color":"#1e6ebe00"},{"offset":0.24,"color":"#1e6ebe"},{"offset":0.25,"color":"#1e6ebe00"},{"offset":0.26,"color":"#1e6ebe"},{"offset":0.27,"color":"#1e6ebe00"},{"offset":0.28,"color":"#1e6ebe"},{"offset":0.29,"color":"#1e6ebe00"},{"offset":0.3,"color":"#1e6ebe"},{"offset":0.31,"color":"#1e6ebe00"},{"offset":0.32,"color":"#1e6ebe"},{"offset":0.33,"color":"#1e6ebe00"},{"offset":0.34,"color":"#1e6ebe"},{"offset":0.35,"color":"#1e6ebe00"},{"offset":0.36,"color":"#1e6ebe"},{"offset":0.37,"color":"#1e6ebe00"},{"offset":0.38,"color":"#1e6ebe"},{"offset":0.39,"color":"#1e6ebe00"},{"offset":0.4,"color":"#1e6ebe"},{"offset":0.41,"color":"#1e6ebe00"},{"offset":0.42,"color":"#1e6ebe"},{"offset":0.43,"color":"#1e6ebe00"},{"offset":0.44,"color":"#1e6ebe"},{"offset":0.45,"color":"#1e6ebe00"},{"offset":0.46,"color":"#1e6ebe"},{"offset":0.47,"color":"#1e6ebe00"},{"offset":0.48,"color":"#1e6ebe"},{"offset":0.49,"color":"#1e6ebe00"},{"offset":0.5,"color":"#1e6ebe"},{"offset":0.51,"color":"#1e6ebe00"},{"offset":0.52,"color":"#1e6ebe"},{"offset":0.53,"color":"#1e6ebe00"},{"offset":0.54,"color":"#1e6ebe"},{"offset":0.55,"color":"#1e6ebe00"},{"offset":0.56,"color":"#1e6ebe"},{"offset":0.57,"color":"#1e6ebe00"},{"offset":0.58,"color":"#1e6ebe"},{"offset":0.59,"color":"#1e6ebe00"},{"offset":0.6,"color":"#1e6ebe"},{"offset":0.61,"color":"#1e6ebe00"},{"offset":0.62,"color":"#1e6ebe"},{"offset":0.63,"color":"#1e6ebe00"},{"offset":0.64,"color":"#1e6ebe"},{"offset":0.65,"color":"#1e6ebe00"},{"offset":0.66,"color":"#1e6ebe"},{"offset":0.67,"color":"#1e6ebe00"},{"offset":0.68,"color":"#1e6ebe"},{"offset":0.69,"color":"#1e6ebe00"},{"offset":0.7,"color":"#1e6ebe"},{"offset":0.71,"color":"#1e6ebe00"},{"offset":0.72,"color":"#1e6ebe"},{"offset":0.73,"color":"#1e6ebe00"},{"offset":0.74,"color":"#1e6ebe"},{"offset":0.75,"color":"#1e6ebe00"},{"offset":0.76,"color":"#1e6ebe"},{"offset":0.77,"color":"#1e6ebe00"},{"offset":0.78,"color":"#1e6ebe"},{"offset":0.79,"color":"#1e6ebe00"},{"offset":0.8,"color":"#1e6ebe"},{"offset":0.81,"color":"#1e6ebe00"},{"offset":0.82,"color":"#1e6ebe"},{"offset":0.83,"color":"#1e6ebe00"},{"offset":0.84,"color":"#1e6ebe"},{"offset":0.85,"color":"#1e6ebe00"},{"offset":0.86,"color":"#1e6ebe"},{"offset":0.87,"color":"#1e6ebe00"},{"offset":0.88,"color":"#1e6ebe"},{"offset":0.89,"color":"#1e6ebe00"},{"offset":0.9,"color":"#1e6ebe"},{"offset":0.91,"color":"#1e6ebe00"},{"offset":0.92,"color":"#1e6ebe"},{"offset":0.93,"color":"#1e6ebe00"},{"offset":0.94,"color":"#1e6ebe"},{"offset":0.95,"color":"#1e6ebe00"},{"offset":0.96,"color":"#1e6ebe"},{"offset":0.97,"color":"#1e6ebe00"},{"offset":0.98,"color":"#1e6ebe"},{"offset":0.99,"color":"#1e6ebe00"},{"offset":1,"color":"#1e6ebe"}]}},
{"test":"datum.c==='some'","value":{"gradient":"linear","x1":0,"y1":0,"x2":1,"y2":0,"stops":[{"offset":0,"color":"#1e6ebe"},{"offset":0.02,"color":"#1e6ebe00"},{"offset":0.04,"color":"#1e6ebe"},{"offset":0.06,"color":"#1e6ebe00"},{"offset":0.08,"color":"#1e6ebe"},{"offset":0.1,"color":"#1e6ebe00"},{"offset":0.12,"color":"#1e6ebe"},{"offset":0.14,"color":"#1e6ebe00"},{"offset":0.16,"color":"#1e6ebe"},{"offset":0.18,"color":"#1e6ebe00"},{"offset":0.2,"color":"#1e6ebe"},{"offset":0.22,"color":"#1e6ebe00"},{"offset":0.24,"color":"#1e6ebe"},{"offset":0.26,"color":"#1e6ebe00"},{"offset":0.28,"color":"#1e6ebe"},{"offset":0.3,"color":"#1e6ebe00"},{"offset":0.32,"color":"#1e6ebe"},{"offset":0.34,"color":"#1e6ebe00"},{"offset":0.36,"color":"#1e6ebe"},{"offset":0.38,"color":"#1e6ebe00"},{"offset":0.4,"color":"#1e6ebe"},{"offset":0.42,"color":"#1e6ebe00"},{"offset":0.44,"color":"#1e6ebe"},{"offset":0.46,"color":"#1e6ebe00"},{"offset":0.48,"color":"#1e6ebe"},{"offset":0.5,"color":"#1e6ebe00"},{"offset":0.52,"color":"#1e6ebe"},{"offset":0.54,"color":"#1e6ebe00"},{"offset":0.56,"color":"#1e6ebe"},{"offset":0.58,"color":"#1e6ebe00"},{"offset":0.6,"color":"#1e6ebe"},{"offset":0.62,"color":"#1e6ebe00"},{"offset":0.64,"color":"#1e6ebe"},{"offset":0.66,"color":"#1e6ebe00"},{"offset":0.68,"color":"#1e6ebe"},{"offset":0.7,"color":"#1e6ebe00"},{"offset":0.72,"color":"#1e6ebe"},{"offset":0.74,"color":"#1e6ebe00"},{"offset":0.76,"color":"#1e6ebe"},{"offset":0.78,"color":"#1e6ebe00"},{"offset":0.8,"color":"#1e6ebe"},{"offset":0.82,"color":"#1e6ebe00"},{"offset":0.84,"color":"#1e6ebe"},{"offset":0.86,"color":"#1e6ebe00"},{"offset":0.88,"color":"#1e6ebe"},{"offset":0.9,"color":"#1e6ebe00"},{"offset":0.92,"color":"#1e6ebe"},{"offset":0.94,"color":"#1e6ebe00"},{"offset":0.96,"color":"#1e6ebe"},{"offset":0.98,"color":"#1e6ebe00"},{"offset":1,"color":"#1e6ebe"}]}},
{"test":"datum.c==='most'","value":{"gradient":"linear","x1":0,"y1":0,"x2":0,"y2":1,"stops":[{"offset":0,"color":"#1e6ebe"},{"offset":0.005,"color":"#1e6ebe00"},{"offset":0.02,"color":"#1e6ebe00"},{"offset":0.025,"color":"#1e6ebe"},{"offset":0.03,"color":"#1e6ebe00"},{"offset":0.045,"color":"#1e6ebe00"},{"offset":0.05,"color":"#1e6ebe"},{"offset":0.055,"color":"#1e6ebe00"},{"offset":0.07,"color":"#1e6ebe00"},{"offset":0.075,"color":"#1e6ebe"},{"offset":0.08,"color":"#1e6ebe00"},{"offset":0.095,"color":"#1e6ebe00"},{"offset":0.1,"color":"#1e6ebe"},{"offset":0.105,"color":"#1e6ebe00"},{"offset":0.12,"color":"#1e6ebe00"},{"offset":0.125,"color":"#1e6ebe"},{"offset":0.13,"color":"#1e6ebe00"},{"offset":0.145,"color":"#1e6ebe00"},{"offset":0.15,"color":"#1e6ebe"},{"offset":0.155,"color":"#1e6ebe00"},{"offset":0.17,"color":"#1e6ebe00"},{"offset":0.175,"color":"#1e6ebe"},{"offset":0.18,"color":"#1e6ebe00"},{"offset":0.195,"color":"#1e6ebe00"},{"offset":0.2,"color":"#1e6ebe"},{"offset":0.205,"color":"#1e6ebe00"},{"offset":0.22,"color":"#1e6ebe00"},{"offset":0.225,"color":"#1e6ebe"},{"offset":0.23,"color":"#1e6ebe00"},{"offset":0.245,"color":"#1e6ebe00"},{"offset":0.25,"color":"#1e6ebe"},{"offset":0.255,"color":"#1e6ebe00"},{"offset":0.27,"color":"#1e6ebe00"},{"offset":0.275,"color":"#1e6ebe"},{"offset":0.28,"color":"#1e6ebe00"},{"offset":0.295,"color":"#1e6ebe00"},{"offset":0.3,"color":"#1e6ebe"},{"offset":0.305,"color":"#1e6ebe00"},{"offset":0.32,"color":"#1e6ebe00"},{"offset":0.325,"color":"#1e6ebe"},{"offset":0.33,"color":"#1e6ebe00"},{"offset":0.345,"color":"#1e6ebe00"},{"offset":0.35,"color":"#1e6ebe"},{"offset":0.355,"color":"#1e6ebe00"},{"offset":0.37,"color":"#1e6ebe00"},{"offset":0.375,"color":"#1e6ebe"},{"offset":0.38,"color":"#1e6ebe00"},{"offset":0.395,"color":"#1e6ebe00"},{"offset":0.4,"color":"#1e6ebe"},{"offset":0.405,"color":"#1e6ebe00"},{"offset":0.42,"color":"#1e6ebe00"},{"offset":0.425,"color":"#1e6ebe"},{"offset":0.43,"color":"#1e6ebe00"},{"offset":0.445,"color":"#1e6ebe00"},{"offset":0.45,"color":"#1e6ebe"},{"offset":0.455,"color":"#1e6ebe00"},{"offset":0.47,"color":"#1e6ebe00"},{"offset":0.475,"color":"#1e6ebe"},{"offset":0.48,"color":"#1e6ebe00"},{"offset":0.495,"color":"#1e6ebe00"},{"offset":0.5,"color":"#1e6ebe"},{"offset":0.505,"color":"#1e6ebe00"},{"offset":0.52,"color":"#1e6ebe00"},{"offset":0.525,"color":"#1e6ebe"},{"offset":0.53,"color":"#1e6ebe00"},{"offset":0.545,"color":"#1e6ebe00"},{"offset":0.55,"color":"#1e6ebe"},{"offset":0.555,"color":"#1e6ebe00"},{"offset":0.57,"color":"#1e6ebe00"},{"offset":0.575,"color":"#1e6ebe"},{"offset":0.58,"color":"#1e6ebe00"},{"offset":0.595,"color":"#1e6ebe00"},{"offset":0.6,"color":"#1e6ebe"},{"offset":0.605,"color":"#1e6ebe00"},{"offset":0.62,"color":"#1e6ebe00"},{"offset":0.625,"color":"#1e6ebe"},{"offset":0.63,"color":"#1e6ebe00"},{"offset":0.645,"color":"#1e6ebe00"},{"offset":0.65,"color":"#1e6ebe"},{"offset":0.655,"color":"#1e6ebe00"},{"offset":0.67,"color":"#1e6ebe00"},{"offset":0.675,"color":"#1e6ebe"},{"offset":0.68,"color":"#1e6ebe00"},{"offset":0.695,"color":"#1e6ebe00"},{"offset":0.7,"color":"#1e6ebe"},{"offset":0.705,"color":"#1e6ebe00"},{"offset":0.72,"color":"#1e6ebe00"},{"offset":0.725,"color":"#1e6ebe"},{"offset":0.73,"color":"#1e6ebe00"},{"offset":0.745,"color":"#1e6ebe00"},{"offset":0.75,"color":"#1e6ebe"},{"offset":0.755,"color":"#1e6ebe00"},{"offset":0.77,"color":"#1e6ebe00"},{"offset":0.775,"color":"#1e6ebe"},{"offset":0.78,"color":"#1e6ebe00"},{"offset":0.795,"color":"#1e6ebe00"},{"offset":0.8,"color":"#1e6ebe"},{"offset":0.805,"color":"#1e6ebe00"},{"offset":0.82,"color":"#1e6ebe00"},{"offset":0.825,"color":"#1e6ebe"},{"offset":0.83,"color":"#1e6ebe00"},{"offset":0.845,"color":"#1e6ebe00"},{"offset":0.85,"color":"#1e6ebe"},{"offset":0.855,"color":"#1e6ebe00"},{"offset":0.87,"color":"#1e6ebe00"},{"offset":0.875,"color":"#1e6ebe"},{"offset":0.88,"color":"#1e6ebe00"},{"offset":0.895,"color":"#1e6ebe00"},{"offset":0.9,"color":"#1e6ebe"},{"offset":0.905,"color":"#1e6ebe00"},{"offset":0.92,"color":"#1e6ebe00"},{"offset":0.925,"color":"#1e6ebe"},{"offset":0.93,"color":"#1e6ebe00"},{"offset":0.945,"color":"#1e6ebe00"},{"offset":0.95,"color":"#1e6ebe"},{"offset":0.955,"color":"#1e6ebe00"},{"offset":0.97,"color":"#1e6ebe00"},{"offset":0.975,"color":"#1e6ebe"},{"offset":0.98,"color":"#1e6ebe00"},{"offset":0.995,"color":"#1e6ebe00"},{"offset":1,"color":"#1e6ebe"}]}},
{"test":"datum.c==='every'","value":{"gradient":"linear","x1":0,"y1":0,"x2":1,"y2":0,"stops":[{"offset":0,"color":"#1e6ebe"},{"offset":0.01,"color":"#1e6ebe00"},{"offset":0.04,"color":"#1e6ebe00"},{"offset":0.05,"color":"#1e6ebe"},{"offset":0.06,"color":"#1e6ebe00"},{"offset":0.09,"color":"#1e6ebe00"},{"offset":0.1,"color":"#1e6ebe"},{"offset":0.11,"color":"#1e6ebe00"},{"offset":0.14,"color":"#1e6ebe00"},{"offset":0.15,"color":"#1e6ebe"},{"offset":0.16,"color":"#1e6ebe00"},{"offset":0.19,"color":"#1e6ebe00"},{"offset":0.2,"color":"#1e6ebe"},{"offset":0.21,"color":"#1e6ebe00"},{"offset":0.24,"color":"#1e6ebe00"},{"offset":0.25,"color":"#1e6ebe"},{"offset":0.26,"color":"#1e6ebe00"},{"offset":0.29,"color":"#1e6ebe00"},{"offset":0.3,"color":"#1e6ebe"},{"offset":0.31,"color":"#1e6ebe00"},{"offset":0.34,"color":"#1e6ebe00"},{"offset":0.35,"color":"#1e6ebe"},{"offset":0.36,"color":"#1e6ebe00"},{"offset":0.39,"color":"#1e6ebe00"},{"offset":0.4,"color":"#1e6ebe"},{"offset":0.41,"color":"#1e6ebe00"},{"offset":0.44,"color":"#1e6ebe00"},{"offset":0.45,"color":"#1e6ebe"},{"offset":0.46,"color":"#1e6ebe00"},{"offset":0.49,"color":"#1e6ebe00"},{"offset":0.5,"color":"#1e6ebe"},{"offset":0.51,"color":"#1e6ebe00"},{"offset":0.54,"color":"#1e6ebe00"},{"offset":0.55,"color":"#1e6ebe"},{"offset":0.56,"color":"#1e6ebe00"},{"offset":0.59,"color":"#1e6ebe00"},{"offset":0.6,"color":"#1e6ebe"},{"offset":0.61,"color":"#1e6ebe00"},{"offset":0.64,"color":"#1e6ebe00"},{"offset":0.65,"color":"#1e6ebe"},{"offset":0.66,"color":"#1e6ebe00"},{"offset":0.69,"color":"#1e6ebe00"},{"offset":0.7,"color":"#1e6ebe"},{"offset":0.71,"color":"#1e6ebe00"},{"offset":0.74,"color":"#1e6ebe00"},{"offset":0.75,"color":"#1e6ebe"},{"offset":0.76,"color":"#1e6ebe00"},{"offset":0.79,"color":"#1e6ebe00"},{"offset":0.8,"color":"#1e6ebe"},{"offset":0.81,"color":"#1e6ebe00"},{"offset":0.84,"color":"#1e6ebe00"},{"offset":0.85,"color":"#1e6ebe"},{"offset":0.86,"color":"#1e6ebe00"},{"offset":0.89,"color":"#1e6ebe00"},{"offset":0.9,"color":"#1e6ebe"},{"offset":0.91,"color":"#1e6ebe00"},{"offset":0.94,"color":"#1e6ebe00"},{"offset":0.95,"color":"#1e6ebe"},{"offset":0.96,"color":"#1e6ebe00"},{"offset":0.99,"color":"#1e6ebe00"},{"offset":1,"color":"#1e6ebe"}]}}
],"value":null}}},
{"mark":{"type":"arc","radius":205,"yOffset":-9},"encoding":{"fill":{"condition":[
{"test":"datum.c==='some'","value":{"gradient":"linear","x1":0,"y1":0,"x2":0,"y2":1,"stops":[{"offset":0,"color":"#9ec1e6"},{"offset":0.02,"color":"#9ec1e600"},{"offset":0.04,"color":"#9ec1e6"},{"offset":0.06,"color":"#9ec1e600"},{"offset":0.08,"color":"#9ec1e6"},{"offset":0.1,"color":"#9ec1e600"},{"offset":0.12,"color":"#9ec1e6"},{"offset":0.14,"color":"#9ec1e600"},{"offset":0.16,"color":"#9ec1e6"},{"offset":0.18,"color":"#9ec1e600"},{"offset":0.2,"color":"#9ec1e6"},{"offset":0.22,"color":"#9ec1e600"},{"offset":0.24,"color":"#9ec1e6"},{"offset":0.26,"color":"#9ec1e600"},{"offset":0.28,"color":"#9ec1e6"},{"offset":0.3,"color":"#9ec1e600"},{"offset":0.32,"color":"#9ec1e6"},{"offset":0.34,"color":"#9ec1e600"},{"offset":0.36,"color":"#9ec1e6"},{"offset":0.38,"color":"#9ec1e600"},{"offset":0.4,"color":"#9ec1e6"},{"offset":0.42,"color":"#9ec1e600"},{"offset":0.44,"color":"#9ec1e6"},{"offset":0.46,"color":"#9ec1e600"},{"offset":0.48,"color":"#9ec1e6"},{"offset":0.5,"color":"#9ec1e600"},{"offset":0.52,"color":"#9ec1e6"},{"offset":0.54,"color":"#9ec1e600"},{"offset":0.56,"color":"#9ec1e6"},{"offset":0.58,"color":"#9ec1e600"},{"offset":0.6,"color":"#9ec1e6"},{"offset":0.62,"color":"#9ec1e600"},{"offset":0.64,"color":"#9ec1e6"},{"offset":0.66,"color":"#9ec1e600"},{"offset":0.68,"color":"#9ec1e6"},{"offset":0.7,"color":"#9ec1e600"},{"offset":0.72,"color":"#9ec1e6"},{"offset":0.74,"color":"#9ec1e600"},{"offset":0.76,"color":"#9ec1e6"},{"offset":0.78,"color":"#9ec1e600"},{"offset":0.8,"color":"#9ec1e6"},{"offset":0.82,"color":"#9ec1e600"},{"offset":0.84,"color":"#9ec1e6"},{"offset":0.86,"color":"#9ec1e600"},{"offset":0.88,"color":"#9ec1e6"},{"offset":0.9,"color":"#9ec1e600"},{"offset":0.92,"color":"#9ec1e6"},{"offset":0.94,"color":"#9ec1e600"},{"offset":0.96,"color":"#9ec1e6"},{"offset":0.98,"color":"#9ec1e600"},{"offset":1,"color":"#9ec1e6"}]}},
{"test":"datum.c==='most'","value":{"gradient":"linear","x1":0,"y1":0,"x2":1,"y2":0,"stops":[{"offset":0,"color":"#1e6ebe"},{"offset":0.008,"color":"#1e6ebe00"},{"offset":0.032,"color":"#1e6ebe00"},{"offset":0.04,"color":"#1e6ebe"},{"offset":0.048,"color":"#1e6ebe00"},{"offset":0.072,"color":"#1e6ebe00"},{"offset":0.08,"color":"#1e6ebe"},{"offset":0.088,"color":"#1e6ebe00"},{"offset":0.112,"color":"#1e6ebe00"},{"offset":0.12,"color":"#1e6ebe"},{"offset":0.128,"color":"#1e6ebe00"},{"offset":0.152,"color":"#1e6ebe00"},{"offset":0.16,"color":"#1e6ebe"},{"offset":0.168,"color":"#1e6ebe00"},{"offset":0.192,"color":"#1e6ebe00"},{"offset":0.2,"color":"#1e6ebe"},{"offset":0.208,"color":"#1e6ebe00"},{"offset":0.232,"color":"#1e6ebe00"},{"offset":0.24,"color":"#1e6ebe"},{"offset":0.248,"color":"#1e6ebe00"},{"offset":0.272,"color":"#1e6ebe00"},{"offset":0.28,"color":"#1e6ebe"},{"offset":0.288,"color":"#1e6ebe00"},{"offset":0.312,"color":"#1e6ebe00"},{"offset":0.32,"color":"#1e6ebe"},{"offset":0.328,"color":"#1e6ebe00"},{"offset":0.352,"color":"#1e6ebe00"},{"offset":0.36,"color":"#1e6ebe"},{"offset":0.368,"color":"#1e6ebe00"},{"offset":0.392,"color":"#1e6ebe00"},{"offset":0.4,"color":"#1e6ebe"},{"offset":0.408,"color":"#1e6ebe00"},{"offset":0.432,"color":"#1e6ebe00"},{"offset":0.44,"color":"#1e6ebe"},{"offset":0.448,"color":"#1e6ebe00"},{"offset":0.472,"color":"#1e6ebe00"},{"offset":0.48,"color":"#1e6ebe"},{"offset":0.488,"color":"#1e6ebe00"},{"offset":0.512,"color":"#1e6ebe00"},{"offset":0.52,"color":"#1e6ebe"},{"offset":0.528,"color":"#1e6ebe00"},{"offset":0.552,"color":"#1e6ebe00"},{"offset":0.56,"color":"#1e6ebe"},{"offset":0.568,"color":"#1e6ebe00"},{"offset":0.592,"color":"#1e6ebe00"},{"offset":0.6,"color":"#1e6ebe"},{"offset":0.608,"color":"#1e6ebe00"},{"offset":0.632,"color":"#1e6ebe00"},{"offset":0.64,"color":"#1e6ebe"},{"offset":0.648,"color":"#1e6ebe00"},{"offset":0.672,"color":"#1e6ebe00"},{"offset":0.68,"color":"#1e6ebe"},{"offset":0.688,"color":"#1e6ebe00"},{"offset":0.712,"color":"#1e6ebe00"},{"offset":0.72,"color":"#1e6ebe"},{"offset":0.728,"color":"#1e6ebe00"},{"offset":0.752,"color":"#1e6ebe00"},{"offset":0.76,"color":"#1e6ebe"},{"offset":0.768,"color":"#1e6ebe00"},{"offset":0.792,"color":"#1e6ebe00"},{"offset":0.8,"color":"#1e6ebe"},{"offset":0.808,"color":"#1e6ebe00"},{"offset":0.832,"color":"#1e6ebe00"},{"offset":0.84,"color":"#1e6ebe"},{"offset":0.848,"color":"#1e6ebe00"},{"offset":0.872,"color":"#1e6ebe00"},{"offset":0.88,"color":"#1e6ebe"},{"offset":0.888,"color":"#1e6ebe00"},{"offset":0.912,"color":"#1e6ebe00"},{"offset":0.92,"color":"#1e6ebe"},{"offset":0.928,"color":"#1e6ebe00"},{"offset":0.952,"color":"#1e6ebe00"},{"offset":0.96,"color":"#1e6ebe"},{"offset":0.968,"color":"#1e6ebe00"},{"offset":0.992,"color":"#1e6ebe00"},{"offset":1,"color":"#1e6ebe"}]}},
{"test":"datum.c==='every'","value":{"gradient":"linear","x1":0,"y1":0,"x2":0,"y2":1,"stops":[{"offset":0,"color":"#ffffff"},{"offset":0.01,"color":"#ffffff00"},{"offset":0.04,"color":"#ffffff00"},{"offset":0.05,"color":"#ffffff"},{"offset":0.06,"color":"#ffffff00"},{"offset":0.09,"color":"#ffffff00"},{"offset":0.1,"color":"#ffffff"},{"offset":0.11,"color":"#ffffff00"},{"offset":0.14,"color":"#ffffff00"},{"offset":0.15,"color":"#ffffff"},{"offset":0.16,"color":"#ffffff00"},{"offset":0.19,"color":"#ffffff00"},{"offset":0.2,"color":"#ffffff"},{"offset":0.21,"color":"#ffffff00"},{"offset":0.24,"color":"#ffffff00"},{"offset":0.25,"color":"#ffffff"},{"offset":0.26,"color":"#ffffff00"},{"offset":0.29,"color":"#ffffff00"},{"offset":0.3,"color":"#ffffff"},{"offset":0.31,"color":"#ffffff00"},{"offset":0.34,"color":"#ffffff00"},{"offset":0.35,"color":"#ffffff"},{"offset":0.36,"color":"#ffffff00"},{"offset":0.39,"color":"#ffffff00"},{"offset":0.4,"color":"#ffffff"},{"offset":0.41,"color":"#ffffff00"},{"offset":0.44,"color":"#ffffff00"},{"offset":0.45,"color":"#ffffff"},{"offset":0.46,"color":"#ffffff00"},{"offset":0.49,"color":"#ffffff00"},{"offset":0.5,"color":"#ffffff"},{"offset":0.51,"color":"#ffffff00"},{"offset":0.54,"color":"#ffffff00"},{"offset":0.55,"color":"#ffffff"},{"offset":0.56,"color":"#ffffff00"},{"offset":0.59,"color":"#ffffff00"},{"offset":0.6,"color":"#ffffff"},{"offset":0.61,"color":"#ffffff00"},{"offset":0.64,"color":"#ffffff00"},{"offset":0.65,"color":"#ffffff"},{"offset":0.66,"color":"#ffffff00"},{"offset":0.69,"color":"#ffffff00"},{"offset":0.7,"color":"#ffffff"},{"offset":0.71,"color":"#ffffff00"},{"offset":0.74,"color":"#ffffff00"},{"offset":0.75,"color":"#ffffff"},{"offset":0.76,"color":"#ffffff00"},{"offset":0.79,"color":"#ffffff00"},{"offset":0.8,"color":"#ffffff"},{"offset":0.81,"color":"#ffffff00"},{"offset":0.84,"color":"#ffffff00"},{"offset":0.85,"color":"#ffffff"},{"offset":0.86,"color":"#ffffff00"},{"offset":0.89,"color":"#ffffff00"},{"offset":0.9,"color":"#ffffff"},{"offset":0.91,"color":"#ffffff00"},{"offset":0.94,"color":"#ffffff00"},{"offset":0.95,"color":"#ffffff"},{"offset":0.96,"color":"#ffffff00"},{"offset":0.99,"color":"#ffffff00"},{"offset":1,"color":"#ffffff"}]}}
],"value":null}}},
{"mark":{"type":"arc","radius":205,"yOffset":-9,"filled":false,"stroke":"#404040","strokeWidth":0.8}},
{"mark":{"type":"text","style":"lh","radius":143,"yOffset":-9,"dx":-3,"dy":-5},"encoding":{"text":{"condition":{"test":"datum.c==='none'","field":"n"},"value":""}}},
{"mark":{"type":"text","style":"lh","radius":135,"yOffset":-9,"dx":26,"dy":44},"encoding":{"text":{"condition":{"test":"datum.c==='none'","field":"p"},"value":""}}},
{"mark":{"type":"text","style":"lh","radius":130,"yOffset":-9,"dx":15,"dy":-10},"encoding":{"text":{"condition":{"test":"datum.c==='some'","field":"p"},"value":""}}},
{"mark":{"type":"text","style":"lh","radius":194,"yOffset":-9,"dx":19,"dy":-12},"encoding":{"text":{"condition":{"test":"datum.c==='some'","field":"n"},"value":""}}},
{"mark":{"type":"text","style":"lh","radius":123,"yOffset":-9,"dx":-11,"dy":-24},"encoding":{"text":{"condition":{"test":"datum.c==='most'","field":"n"},"value":""}}},
{"mark":{"type":"text","style":"lh","radius":112,"yOffset":-9,"dx":15,"dy":32},"encoding":{"text":{"condition":{"test":"datum.c==='most'","field":"p"},"value":""}}},
{"mark":{"type":"text","style":"lh","radius":130,"yOffset":-9,"dx":-8,"dy":3},"encoding":{"text":{"condition":{"test":"datum.c==='every'","field":"p"},"value":""}}},
{"mark":{"type":"text","style":"lh","radius":193,"yOffset":-9,"dx":-13,"dy":6},"encoding":{"text":{"condition":{"test":"datum.c==='every'","field":"n"},"value":""}}},
{"mark":{"type":"text","style":"lt","radius":143,"yOffset":-9,"dx":-3,"dy":-5},"encoding":{"text":{"condition":{"test":"datum.c==='none'","field":"n"},"value":""}}},
{"mark":{"type":"text","style":"lt","radius":135,"yOffset":-9,"dx":26,"dy":44},"encoding":{"text":{"condition":{"test":"datum.c==='none'","field":"p"},"value":""}}},
{"mark":{"type":"text","style":"lt","radius":130,"yOffset":-9,"dx":15,"dy":-10},"encoding":{"text":{"condition":{"test":"datum.c==='some'","field":"p"},"value":""}}},
{"mark":{"type":"text","style":"lt","radius":194,"yOffset":-9,"dx":19,"dy":-12},"encoding":{"text":{"condition":{"test":"datum.c==='some'","field":"n"},"value":""}}},
{"mark":{"type":"text","style":"lt","radius":123,"yOffset":-9,"dx":-11,"dy":-24},"encoding":{"text":{"condition":{"test":"datum.c==='most'","field":"n"},"value":""}}},
{"mark":{"type":"text","style":"lt","radius":112,"yOffset":-9,"dx":15,"dy":32},"encoding":{"text":{"condition":{"test":"datum.c==='most'","field":"p"},"value":""}}},
{"mark":{"type":"text","style":"lt","radius":130,"yOffset":-9,"dx":-8,"dy":3},"encoding":{"text":{"condition":{"test":"datum.c==='every'","field":"p"},"value":""}}},
{"mark":{"type":"text","style":"lt","radius":193,"yOffset":-9,"dx":-13,"dy":6},"encoding":{"text":{"condition":{"test":"datum.c==='every'","field":"n"},"value":""}}}
]}
],"spacing":0},
{"hconcat":[
{"width":565,"height":40,"view":{"stroke":"#1a1a1a","strokeWidth":1.6},"data":{"values":[{"t":"1) แหล่งน้ำเพื่อการเกษตร"}]},"mark":{"type":"text","fontSize":22,"fill":"#000000"},"encoding":{"text":{"field":"t"}}},
{"width":556,"height":40,"view":{"stroke":"#1a1a1a","strokeWidth":1.6},"data":{"values":[{"t":"2) การขาดแคลนน้ำภาคการเกษตร"}]},"mark":{"type":"text","fontSize":22,"fill":"#000000","dx":9},"encoding":{"text":{"field":"t"}}}
],"spacing":0}
]
}
